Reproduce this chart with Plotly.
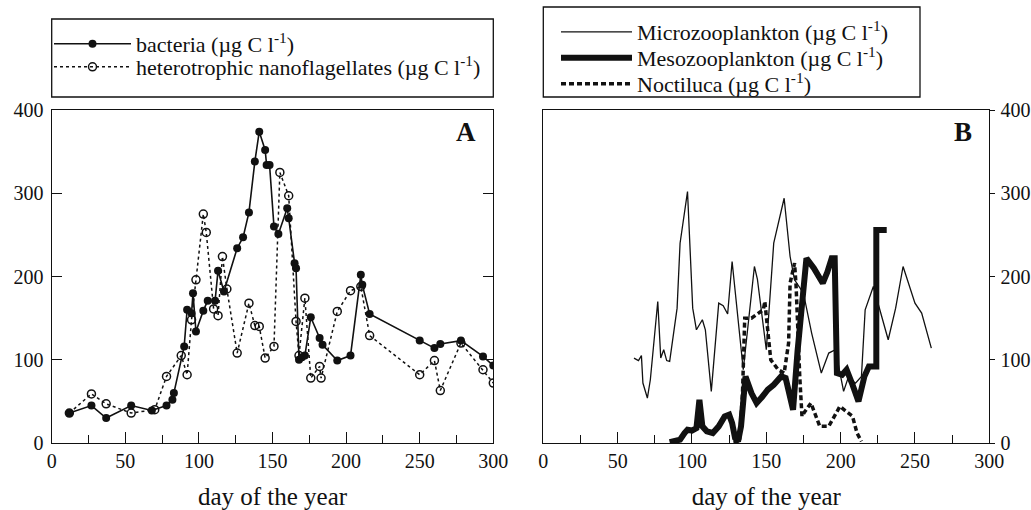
import plotly.graph_objects as go

# ---------------- data ----------------
bacteria_day = [12, 27, 37, 54, 68, 78, 82, 83, 90, 92, 95, 96, 98, 103, 106, 111, 113, 117,
                126, 130, 134, 138, 141, 145, 146, 148, 151, 154, 160, 161, 165, 166, 168, 170,
                172, 176, 182, 184, 194, 203, 210, 211, 216, 250, 260, 264, 278, 293, 300]
bacteria_val = [36, 45, 30, 45, 39, 45, 52, 60, 116, 160, 156, 180, 134, 159, 171, 171, 207, 182,
                234, 247, 277, 338, 374, 352, 334, 334, 260, 251, 282, 270, 216, 210, 100, 103,
                105, 151, 126, 118, 99, 105, 202, 190, 155, 123, 114, 119, 123, 104, 93]

hnf_day = [12, 27, 37, 54, 70, 78, 88, 92, 95, 98, 103, 105, 110, 113, 116, 119, 126, 134, 138,
           141, 145, 151, 155, 161, 166, 168, 172, 176, 182, 183, 194, 203, 210, 216, 250, 260,
           264, 278, 293, 300]
hnf_val = [36, 59, 47, 36, 40, 80, 105, 82, 148, 196, 275, 253, 161, 153, 224, 185, 108, 168, 141,
           140, 102, 116, 325, 297, 146, 105, 174, 78, 92, 78, 158, 183, 188, 129, 82, 99,
           63, 120, 88, 72]

micro_day = [61, 64, 66, 67, 70, 72, 77, 79, 81, 83, 85, 90, 92, 97, 100.5, 103, 107, 109, 113,
             118, 121, 124, 127, 134.5, 142, 144, 150, 155, 162, 166, 169, 175, 180.5, 187, 192,
             196.5, 202, 205, 210, 214, 216.5, 222, 232, 237, 242, 250, 254.5, 261]
micro_val = [102, 99, 105, 72, 54, 76, 170, 102, 112, 99, 98, 162, 240, 302, 162, 136, 148, 136, 62,
             168, 165, 155, 218, 88, 212, 197, 112, 240, 294, 224, 196, 180, 132, 84, 108,
             112, 62, 78, 72, 80, 160, 188, 124, 162, 212, 168, 156, 114]

meso_day = [85, 88, 92, 95, 97, 100, 103, 105, 107, 110, 114, 118, 122, 125, 127, 129, 131, 133,
            136, 140, 143.5, 147, 151, 155, 160, 163, 168, 171, 174, 177, 182, 188, 191, 194,
            196, 197.5, 201, 204, 208, 212, 216, 219, 224, 224, 231]
meso_val = [1, 2, 4, 12, 16, 15, 18, 52, 20, 14, 12, 20, 32, 34, 24, 6, 2, 20,
            80, 60, 48, 55, 64, 70, 80, 78, 40, 110, 172, 222, 210, 192, 205, 222,
            222, 84, 82, 88, 70, 50, 80, 92, 92, 256, 256]

noct_day = [128, 132, 134, 135.5, 140, 144, 148, 149, 153, 158, 162, 165, 166, 169, 170, 172.5,
            174, 176, 180, 186, 192, 199.5, 204, 208, 211, 214]
noct_val = [0, 2, 60, 150, 150, 155, 160, 170, 100, 88, 84, 120, 192, 216, 190, 80,
            32, 38, 48, 20, 20, 44, 38, 32, 12, 2]

x_ticks = [0, 50, 100, 150, 200, 250, 300]
y_ticks = [0, 100, 200, 300, 400]

unit = " (µg C l<sup>-1</sup>)"
FONT = "Liberation Serif"
INK = "#111111"
W, H = 1031, 510

px = lambda v: v / W
py = lambda v: 1 - v / H

fig = go.Figure()

fig.add_trace(go.Scatter(x=bacteria_day, y=bacteria_val, mode="lines+markers",
                         name="bacteria" + unit, legend="legend",
                         line=dict(color=INK, width=1.6),
                         marker=dict(symbol="circle", size=8, color=INK),
                         xaxis="x", yaxis="y"))
fig.add_trace(go.Scatter(x=hnf_day, y=hnf_val, mode="lines+markers",
                         name="heterotrophic nanoflagellates" + unit, legend="legend2",
                         line=dict(color=INK, width=1.5, dash="dot"),
                         marker=dict(symbol="circle-open", size=8, color=INK,
                                     line=dict(width=1.5, color=INK)),
                         xaxis="x", yaxis="y"))

fig.add_trace(go.Scatter(x=micro_day, y=micro_val, mode="lines",
                         name="Microzooplankton" + unit, legend="legend3",
                         line=dict(color=INK, width=1.3),
                         xaxis="x2", yaxis="y2"))
fig.add_trace(go.Scatter(x=meso_day, y=meso_val, mode="lines",
                         name="Mesozooplankton" + unit, legend="legend4",
                         line=dict(color=INK, width=6),
                         xaxis="x2", yaxis="y2"))
fig.add_trace(go.Scatter(x=noct_day, y=noct_val, mode="lines",
                         name="Noctiluca" + unit, legend="legend5",
                         line=dict(color=INK, width=3.5, dash="5px,3px"),
                         xaxis="x2", yaxis="y2"))

tickfont = dict(family=FONT, size=20, color=INK)


def x_axis(domain, anchor):
    return dict(domain=domain, anchor=anchor, range=[0, 300], tickvals=x_ticks,
                ticks="inside", ticklen=11, tickcolor=INK, tickwidth=1.3,
                showline=True, linecolor=INK, linewidth=1.3, mirror=True,
                showgrid=False, zeroline=False, tickfont=dict(tickfont), automargin=False,
                minor=dict(dtick=25, ticks="inside", ticklen=8, tickcolor=INK, tickwidth=1.3),
                title=dict(text="day of the year",
                           font=dict(family=FONT, size=25, color=INK), standoff=19))


def y_axis(anchor, side, ticks, mirror):
    return dict(domain=[py(443), py(110)], anchor=anchor, side=side, range=[0, 400],
                tickvals=y_ticks, ticks=ticks, ticklen=10 if ticks == "inside" else 5,
                tickcolor=INK, tickwidth=1.3, showline=True, linecolor=INK, linewidth=1.3,
                mirror=mirror, showgrid=False, zeroline=False, tickfont=dict(tickfont),
                automargin=False, ticklabelstandoff=3 if side == "left" else 1)


def legend_row(x, y, itemwidth, size):
    return dict(x=px(x), y=py(y), xanchor="left", yanchor="middle", itemwidth=itemwidth,
                bgcolor="rgba(0,0,0,0)", borderwidth=0,
                font=dict(family=FONT, size=size, color=INK))


fig.update_layout(
    width=W, height=H, margin=dict(l=0, r=0, t=0, b=0, autoexpand=False),
    font=dict(family=FONT, size=20, color=INK),
    paper_bgcolor="white", plot_bgcolor="white", showlegend=True,
    xaxis=x_axis([px(51.7), px(493.3)], "y"),
    yaxis=y_axis("x", "left", "inside", "ticks"),
    xaxis2=x_axis([px(543.3), px(989.3)], "y2"),
    yaxis2=y_axis("x2", "right", "outside", True),
    yaxis3=dict(overlaying="y2", anchor="x2", side="left", range=[0, 400], tickvals=y_ticks,
                ticks="inside", ticklen=10, tickcolor=INK, tickwidth=1.3, showticklabels=False,
                showline=False, showgrid=False, zeroline=False, automargin=False),
    legend=legend_row(49, 44, 77, 22),
    legend2=legend_row(49, 67, 77, 22),
    legend3=legend_row(556, 32, 71, 22),
    legend4=legend_row(556, 58, 71, 22),
    legend5=legend_row(556, 84, 71, 22),
    shapes=[
        dict(type="rect", xref="paper", yref="paper", x0=px(51.7), x1=px(493.3),
             y0=py(97), y1=py(19), line=dict(color=INK, width=1.3)),
        dict(type="rect", xref="paper", yref="paper", x0=px(543.3), x1=px(920),
             y0=py(97), y1=py(7), line=dict(color=INK, width=1.3)),
    ],
    annotations=[
        dict(text="<b>A</b>", x=px(466), y=py(132), xref="paper", yref="paper",
             xanchor="center", yanchor="middle", showarrow=False,
             font=dict(family=FONT, size=27, color=INK)),
        dict(text="<b>B</b>", x=px(963), y=py(132), xref="paper", yref="paper",
             xanchor="center", yanchor="middle", showarrow=False,
             font=dict(family=FONT, size=27, color=INK)),
    ],
)

fig.write_html("out.html", config={"displayModeBar": False},
               post_script="document.body.style.margin='0';")
